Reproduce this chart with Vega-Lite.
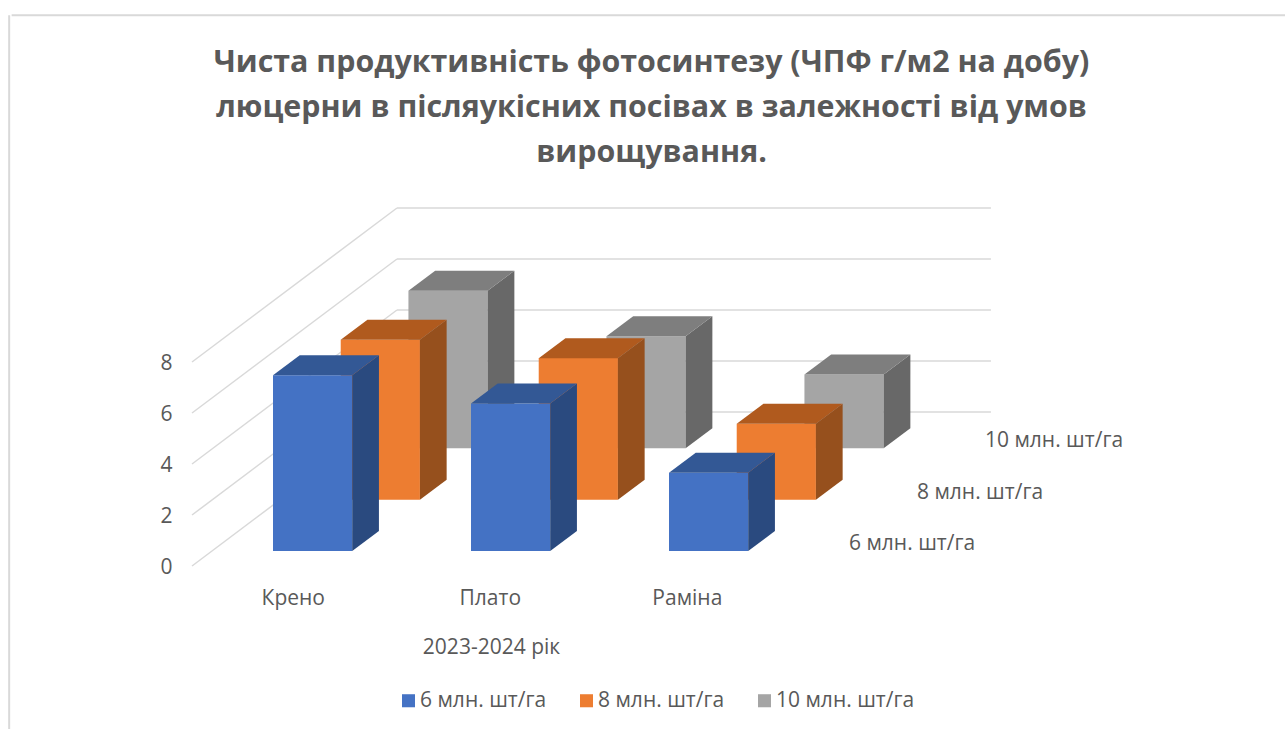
{
"$schema":"https://vega.github.io/schema/vega-lite/v6.json",
"width":1285,"height":729,"autosize":{"type":"none"},"padding":0,
"background":"#ffffff",
"title":{"text":["Чиста продуктивність фотосинтезу (ЧПФ г/м2 на добу)","люцерни в післяукісних посівах в залежності від умов","вирощування."],"anchor":"middle","frame":"group","offset":-198,"dx":9,"font":"Open Sans","fontSize":30.4,"fontWeight":"bold","color":"#595959","lineHeight":45,"baseline":"bottom"},
"config":{"view":{"stroke":null},"font":"Open Sans"},
"data":{"values":[
{"cultivar":"Крено","density":"6 млн. шт/га","value":6.89},
{"cultivar":"Плато","density":"6 млн. шт/га","value":5.78},
{"cultivar":"Раміна","density":"6 млн. шт/га","value":3.07},
{"cultivar":"Крено","density":"8 млн. шт/га","value":6.27},
{"cultivar":"Плато","density":"8 млн. шт/га","value":5.55},
{"cultivar":"Раміна","density":"8 млн. шт/га","value":2.98},
{"cultivar":"Крено","density":"10 млн. шт/га","value":6.18},
{"cultivar":"Плато","density":"10 млн. шт/га","value":4.4},
{"cultivar":"Раміна","density":"10 млн. шт/га","value":2.9}
]},
"transform":[
{"calculate":"indexof(['Крено','Плато','Раміна'],datum.cultivar)","as":"c"},
{"calculate":"indexof(['6 млн. шт/га','8 млн. шт/га','10 млн. шт/га'],datum.density)","as":"d"},
{"calculate":"datum.c+0.342*datum.d","as":"left"},
{"calculate":"0.59+2.012*datum.d","as":"base"},
{"calculate":"datum.base+datum.value","as":"top"},
{"calculate":"[0,1]","as":"t"},
{"flatten":["t"]}
],
"encoding":{
"x":{"field":"X","type":"quantitative","title":"2023-2024 рік","scale":{"domain":[-1.3788,5.1111],"nice":false,"zero":false},
"axis":{"orient":"bottom","offset":-142,"values":[0.1,1.095,2.09],"labelExpr":"datum.value<0.5?'Крено':datum.value<1.5?'Плато':'Раміна'","grid":false,"domain":false,"ticks":false,"labelPadding":0,"labelFontSize":21,"labelColor":"#595959","labelFont":"Open Sans","titleFont":"Open Sans","titleFontSize":21,"titleFontWeight":"normal","titleColor":"#595959","titlePadding":28,"titleX":491}},
"y":{"field":"Y","type":"quantitative","scale":{"domain":[-6.392,22.196],"nice":false,"zero":false},
"axis":{"orient":"left","offset":-172,"values":[0,2,4,6,8],"title":null,"grid":false,"domain":false,"ticks":false,"labelPadding":0,"labelFontSize":21,"labelColor":"#595959","labelFont":"Open Sans","labelOffset":1.5}}
},
"layer":[
{"data":{"values":[{"v":10}]},"transform":[{"calculate":"-1.32","as":"X"},{"calculate":"5.12","as":"X2"},{"calculate":"21.6","as":"Y"}],
 "mark":{"type":"rule","color":"#d9d9d9","strokeWidth":2},"encoding":{"x2":{"field":"X2"}}},
{"data":{"values":[{"v":10}]},"transform":[{"calculate":"-1.3325","as":"X"},{"calculate":"21.6","as":"Y"},{"calculate":"-6.5","as":"Y2"}],
 "mark":{"type":"rule","color":"#d9d9d9","strokeWidth":2},"encoding":{"y2":{"field":"Y2"}}},
{"data":{"values":[{"tick":0},{"tick":2},{"tick":4},{"tick":6},{"tick":8}]},
 "transform":[{"calculate":"-0.409","as":"X"},{"calculate":"0.626","as":"X2"},{"calculate":"datum.tick","as":"Y"},{"calculate":"datum.tick+6.04","as":"Y2"}],
 "mark":{"type":"rule","color":"#d9d9d9","strokeWidth":1.5},"encoding":{"x2":{"field":"X2"},"y2":{"field":"Y2"}}},
{"data":{"values":[{"tick":0},{"tick":2},{"tick":4},{"tick":6},{"tick":8}]},
 "transform":[{"calculate":"0.626","as":"X"},{"calculate":"3.626","as":"X2"},{"calculate":"datum.tick+6.04","as":"Y"}],
 "mark":{"type":"rule","color":"#d9d9d9","strokeWidth":1.5},"encoding":{"x2":{"field":"X2"}}},

{"transform":[{"filter":"datum.d==2&&datum.t==0"},{"calculate":"datum.left","as":"X"},{"calculate":"datum.left+0.4","as":"X2"},{"calculate":"datum.base","as":"Y"},{"calculate":"datum.top","as":"Y2"}],
 "mark":{"type":"rect"},"encoding":{"x2":{"field":"X2"},"y2":{"field":"Y2"},"color":{"field":"density","type":"nominal","scale":{"domain":["6 млн. шт/га","8 млн. шт/га","10 млн. шт/га"],"range":["#4472c4","#ed7d31","#a5a5a5"]},
  "legend":{"title":null,"orient":"none","legendX":398,"legendY":690,"direction":"horizontal","columns":3,"symbolType":"square","symbolSize":170,"symbolStrokeWidth":0,"labelFontSize":21,"labelColor":"#595959","labelFont":"Open Sans","columnPadding":29,"labelOffset":1,"labelLimit":300}}}},
{"transform":[{"filter":"datum.d==2"},{"calculate":"datum.left+0.4+0.135*datum.t","as":"X"},{"calculate":"datum.base+0.784*datum.t","as":"Y"},{"calculate":"datum.top+0.784*datum.t","as":"Y2"}],
 "mark":{"type":"area","orient":"vertical","color":"#686868"},"encoding":{"y2":{"field":"Y2"},"detail":{"field":"cultivar"}}},
{"transform":[{"filter":"datum.d==2"},{"calculate":"datum.left+0.135*datum.t","as":"X"},{"calculate":"datum.left+0.4+0.135*datum.t","as":"X2"},{"calculate":"datum.top+0.784*datum.t","as":"Y"}],
 "mark":{"type":"area","orient":"horizontal","color":"#7e7e7e"},"encoding":{"x2":{"field":"X2"},"detail":{"field":"cultivar"}}},

{"transform":[{"filter":"datum.d==1&&datum.t==0"},{"calculate":"datum.left","as":"X"},{"calculate":"datum.left+0.4","as":"X2"},{"calculate":"datum.base","as":"Y"},{"calculate":"datum.top","as":"Y2"}],
 "mark":{"type":"rect"},"encoding":{"x2":{"field":"X2"},"y2":{"field":"Y2"},"color":{"field":"density","type":"nominal"}}},
{"transform":[{"filter":"datum.d==1"},{"calculate":"datum.left+0.4+0.135*datum.t","as":"X"},{"calculate":"datum.base+0.784*datum.t","as":"Y"},{"calculate":"datum.top+0.784*datum.t","as":"Y2"}],
 "mark":{"type":"area","orient":"vertical","color":"#96501d"},"encoding":{"y2":{"field":"Y2"},"detail":{"field":"cultivar"}}},
{"transform":[{"filter":"datum.d==1"},{"calculate":"datum.left+0.135*datum.t","as":"X"},{"calculate":"datum.left+0.4+0.135*datum.t","as":"X2"},{"calculate":"datum.top+0.784*datum.t","as":"Y"}],
 "mark":{"type":"area","orient":"horizontal","color":"#b05a1e"},"encoding":{"x2":{"field":"X2"},"detail":{"field":"cultivar"}}},

{"transform":[{"filter":"datum.d==0&&datum.t==0"},{"calculate":"datum.left","as":"X"},{"calculate":"datum.left+0.4","as":"X2"},{"calculate":"datum.base","as":"Y"},{"calculate":"datum.top","as":"Y2"}],
 "mark":{"type":"rect"},"encoding":{"x2":{"field":"X2"},"y2":{"field":"Y2"},"color":{"field":"density","type":"nominal"}}},
{"transform":[{"filter":"datum.d==0"},{"calculate":"datum.left+0.4+0.135*datum.t","as":"X"},{"calculate":"datum.base+0.784*datum.t","as":"Y"},{"calculate":"datum.top+0.784*datum.t","as":"Y2"}],
 "mark":{"type":"area","orient":"vertical","color":"#2a4a7f"},"encoding":{"y2":{"field":"Y2"},"detail":{"field":"cultivar"}}},
{"transform":[{"filter":"datum.d==0"},{"calculate":"datum.left+0.135*datum.t","as":"X"},{"calculate":"datum.left+0.4+0.135*datum.t","as":"X2"},{"calculate":"datum.top+0.784*datum.t","as":"Y"}],
 "mark":{"type":"area","orient":"horizontal","color":"#335895"},"encoding":{"x2":{"field":"X2"},"detail":{"field":"cultivar"}}},

{"transform":[{"filter":"datum.c==2&&datum.t==0"},{"calculate":"2.909+0.3434*datum.d","as":"X"},{"calculate":"0.85+2.02*datum.d","as":"Y"}],
 "mark":{"type":"text","align":"left","baseline":"middle","font":"Open Sans","fontSize":21,"color":"#595959"},"encoding":{"text":{"field":"density"}}}
]
}
